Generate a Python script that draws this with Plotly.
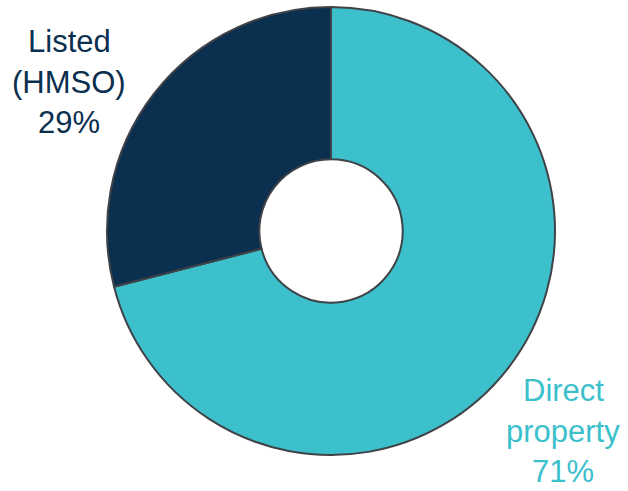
import plotly.graph_objects as go

labels = ["Direct property", "Listed (HMSO)"]
values = [71, 29]
colors = ["#3CC0CC", "#0B2F4F"]
label_lines = [["Direct", "property", "71%"], ["Listed", "(HMSO)", "29%"]]

W, H = 628, 491

fig = go.Figure(go.Pie(
    labels=labels,
    values=values,
    hole=0.32,
    sort=False,
    direction="clockwise",
    rotation=0,
    textinfo="none",
    hoverinfo="label+percent",
    marker=dict(colors=colors, line=dict(color="#3F4247", width=2)),
    domain=dict(x=[107 / W, 555 / W], y=[1 - 455 / H, 1 - 7 / H]),
    showlegend=False,
))

# label placement (pixel centres of each line)
label_pos = [(563, [390, 431, 471]), (69, [41, 82, 123])]
annotations = []
for lines, (px, pys), col in zip(label_lines, label_pos, colors):
    for line, py in zip(lines, pys):
        annotations.append(dict(
            text=line, x=px / W, y=1 - py / H, xref="paper", yref="paper",
            xanchor="center", yanchor="middle", showarrow=False,
            font=dict(family="Liberation Sans, Arial, sans-serif", size=31, color=col),
        ))

fig.update_layout(
    width=W, height=H,
    margin=dict(l=0, r=0, t=0, b=0),
    paper_bgcolor="white", plot_bgcolor="white",
    annotations=annotations,
)

fig.write_html("out.html")
